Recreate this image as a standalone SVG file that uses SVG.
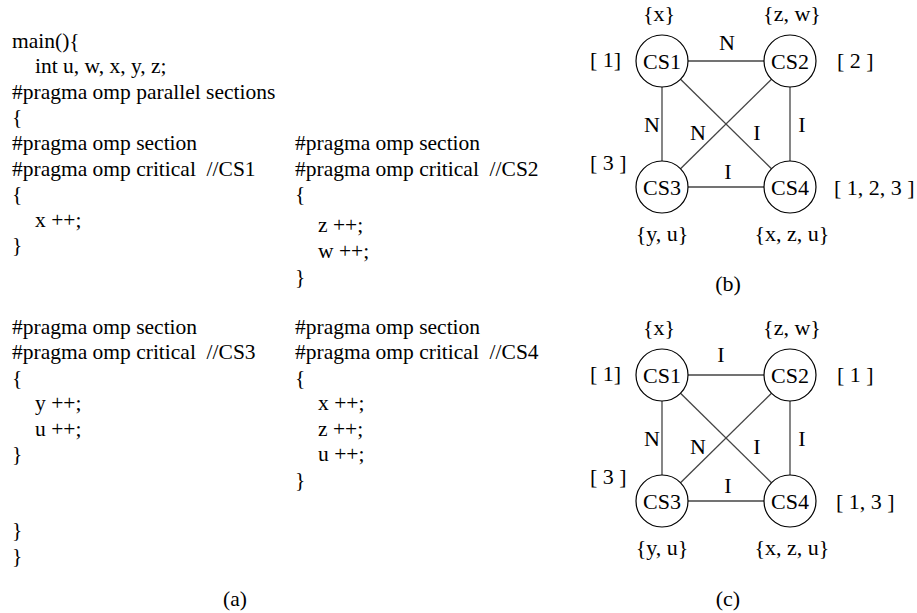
<svg xmlns="http://www.w3.org/2000/svg" width="917" height="613" viewBox="0 0 917 613">
<style>
text { font-family: "Liberation Serif", "Times New Roman", serif; fill: #000; white-space: pre; }
.code { font-size: 21.5px; }
.lbl { font-size: 22px; }
.mid { text-anchor: middle; }
.node circle { fill: #fff; stroke: #000; stroke-width: 1.2; }
.edges line { stroke: #444; stroke-width: 1.3; }
</style>

<g id="code" class="code">
  <text x="12" y="48">main(){</text>
  <text x="35" y="73">int u, w, x, y, z;</text>
  <text x="12" y="99">#pragma omp parallel sections</text>
  <text x="12" y="124">{</text>
  <text x="12" y="150">#pragma omp section</text>
  <text x="12" y="176">#pragma omp critical  //CS1</text>
  <text x="12" y="201">{</text>
  <text x="35" y="227">x ++;</text>
  <text x="12" y="252">}</text>

  <text x="295" y="150">#pragma omp section</text>
  <text x="295" y="176">#pragma omp critical  //CS2</text>
  <text x="295" y="201">{</text>
  <text x="318" y="232">z ++;</text>
  <text x="318" y="258">w ++;</text>
  <text x="295" y="284">}</text>

  <text x="12" y="334">#pragma omp section</text>
  <text x="12" y="359">#pragma omp critical  //CS3</text>
  <text x="12" y="385">{</text>
  <text x="35" y="410">y ++;</text>
  <text x="35" y="436">u ++;</text>
  <text x="12" y="461">}</text>

  <text x="295" y="334">#pragma omp section</text>
  <text x="295" y="359">#pragma omp critical  //CS4</text>
  <text x="295" y="385">{</text>
  <text x="318" y="410">x ++;</text>
  <text x="318" y="436">z ++;</text>
  <text x="318" y="461">u ++;</text>
  <text x="295" y="487">}</text>

  <text x="12" y="537">}</text>
  <text x="12" y="563">}</text>
  <text x="235" y="606" class="mid">(a)</text>
</g>

<!-- Graph (b) -->
<g id="edges-b" class="edges">
  <line x1="688" y1="61" x2="764" y2="61"/>
  <line x1="662" y1="87" x2="662" y2="161"/>
  <line x1="790" y1="87" x2="790" y2="161"/>
  <line x1="688" y1="187" x2="764" y2="187"/>
  <line x1="680.5" y1="79.2" x2="771.5" y2="168.8"/>
  <line x1="771.5" y1="79.2" x2="680.5" y2="168.8"/>
</g>
<g id="b-CS1" class="node"><circle cx="662" cy="61" r="26"/><text class="lbl mid" x="662" y="69">CS1</text></g>
<g id="b-CS2" class="node"><circle cx="790" cy="61" r="26"/><text class="lbl mid" x="790" y="69">CS2</text></g>
<g id="b-CS3" class="node"><circle cx="662" cy="187" r="26"/><text class="lbl mid" x="662" y="195">CS3</text></g>
<g id="b-CS4" class="node"><circle cx="790" cy="187" r="26"/><text class="lbl mid" x="790" y="195">CS4</text></g>
<g id="b-labels" class="lbl">
  <text class="mid" x="659" y="21">{x}</text>
  <text class="mid" x="792" y="21">{z, w}</text>
  <text class="mid" x="727" y="50">N</text>
  <text x="590" y="67">[ 1]</text>
  <text x="837" y="68">[ 2 ]</text>
  <text class="mid" x="652" y="132">N</text>
  <text class="mid" x="698" y="140">N</text>
  <text class="mid" x="757" y="140">I</text>
  <text class="mid" x="802" y="132">I</text>
  <text x="590" y="170">[ 3 ]</text>
  <text class="mid" x="728" y="179">I</text>
  <text x="834" y="195">[ 1, 2, 3 ]</text>
  <text class="mid" x="662" y="241">{y, u}</text>
  <text class="mid" x="792" y="241">{x, z, u}</text>
  <text class="mid" x="728" y="291">(b)</text>
</g>

<!-- Graph (c) -->
<g id="edges-c" class="edges">
  <line x1="688" y1="375" x2="764" y2="375"/>
  <line x1="662" y1="401" x2="662" y2="475"/>
  <line x1="790" y1="401" x2="790" y2="475"/>
  <line x1="688" y1="501" x2="764" y2="501"/>
  <line x1="680.5" y1="393.2" x2="771.5" y2="482.8"/>
  <line x1="771.5" y1="393.2" x2="680.5" y2="482.8"/>
</g>
<g id="c-CS1" class="node"><circle cx="662" cy="375" r="26"/><text class="lbl mid" x="662" y="383">CS1</text></g>
<g id="c-CS2" class="node"><circle cx="790" cy="375" r="26"/><text class="lbl mid" x="790" y="383">CS2</text></g>
<g id="c-CS3" class="node"><circle cx="662" cy="501" r="26"/><text class="lbl mid" x="662" y="509">CS3</text></g>
<g id="c-CS4" class="node"><circle cx="790" cy="501" r="26"/><text class="lbl mid" x="790" y="509">CS4</text></g>
<g id="c-labels" class="lbl">
  <text class="mid" x="659" y="335">{x}</text>
  <text class="mid" x="792" y="335">{z, w}</text>
  <text class="mid" x="721" y="362">I</text>
  <text x="590" y="381">[ 1]</text>
  <text x="837" y="382">[ 1 ]</text>
  <text class="mid" x="652" y="446">N</text>
  <text class="mid" x="698" y="454">N</text>
  <text class="mid" x="757" y="454">I</text>
  <text class="mid" x="802" y="446">I</text>
  <text x="590" y="484">[ 3 ]</text>
  <text class="mid" x="728" y="493">I</text>
  <text x="836" y="509">[ 1, 3 ]</text>
  <text class="mid" x="662" y="555">{y, u}</text>
  <text class="mid" x="792" y="555">{x, z, u}</text>
  <text class="mid" x="728" y="606">(c)</text>
</g>
</svg>
